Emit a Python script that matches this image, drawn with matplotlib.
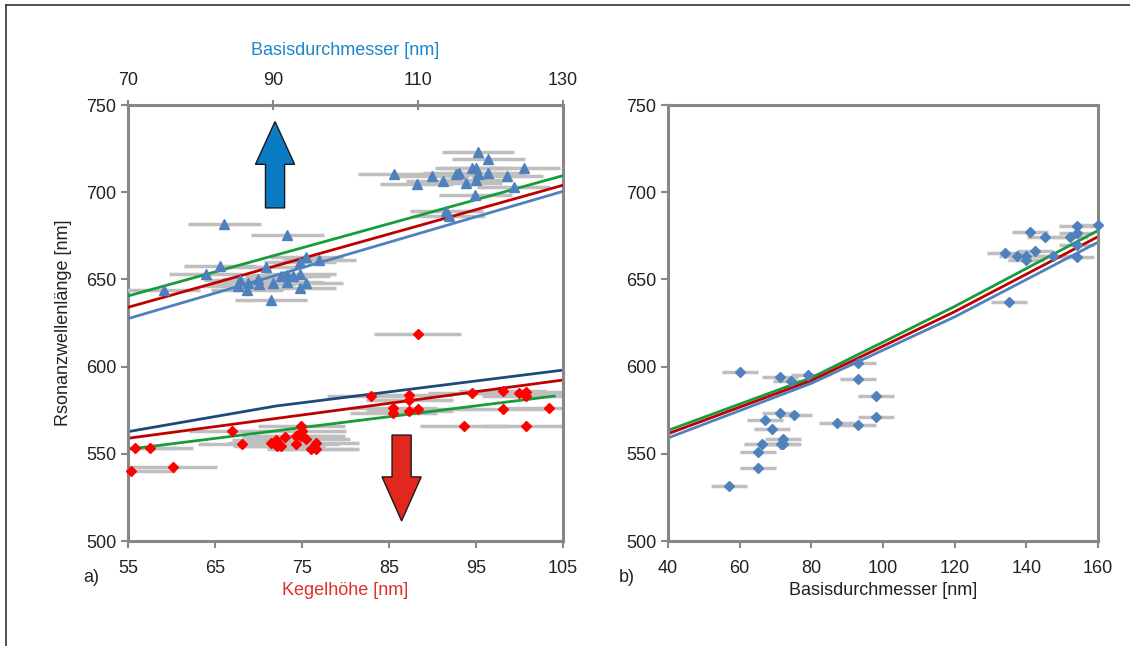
import matplotlib
matplotlib.use("Agg")
import matplotlib.pyplot as plt
from matplotlib.patches import Polygon
from matplotlib.lines import Line2D

plt.rcParams['font.family'] = ['Liberation Sans', 'DejaVu Sans']

# ---- panel a): blue triangles (Basisdurchmesser, top axis) ----
tri_x = [83.3, 92.0, 82.7, 80.7, 74.9, 89.0, 93.7, 94.6, 96.4, 85.5, 86.5, 85.2,
         86.4, 88.0, 88.1, 90.0, 91.1, 91.9, 92.8, 93.7, 91.9, 94.6, 93.7, 89.7,
         118.3, 119.7, 106.7, 109.8, 112.0, 113.4, 115.2, 115.7, 116.6, 117.4,
         118.0, 118.3, 118.0, 119.7, 122.3, 124.6, 123.2, 117.9, 113.9, 114.3]
tri_y = [681.8, 675.6, 657.9, 653.1, 643.9, 657.3, 659.8, 663.0, 661.1, 649.7, 648.1, 646.2,
         643.9, 650.1, 647.2, 647.9, 651.9, 652.5, 652.1, 653.1, 648.7, 648.1, 644.9, 638.2,
         722.9, 718.9, 710.3, 704.5, 709.3, 706.4, 710.6, 711.2, 705.4, 714.0,
         714.0, 710.3, 707.0, 711.2, 709.3, 714.0, 703.2, 698.4, 689.4, 686.4]

# ---- panel a): red diamonds (Kegelhoehe, bottom axis) ----
dia_x = [55.8, 57.5, 55.4, 60.2, 67.0, 68.1, 71.4, 72.0, 72.1, 72.6, 73.1, 74.3,
         74.3, 74.9, 75.0, 74.9, 75.5, 76.6, 76.0, 76.6,
         88.3, 82.9, 87.3, 87.3, 85.5, 85.5, 87.3, 88.3, 94.5, 98.1, 99.9, 100.7,
         100.7, 98.1, 103.4, 93.6, 100.7]
dia_y = [553.5, 553.5, 540.3, 542.6, 563.2, 555.4, 556.4, 557.9, 554.5, 554.5, 559.5, 560.4,
         555.4, 566.1, 563.2, 560.4, 558.3, 556.4, 552.6, 552.6,
         618.7, 583.1, 583.5, 580.8, 576.1, 573.2, 574.4, 575.5, 585.0, 586.2, 585.0, 585.4,
         583.1, 575.5, 576.3, 566.1, 566.1]
x_err = 5

# fit lines panel a)
up_x = [70, 130]
up_green = [640.5, 709.5]
up_red = [634.0, 704.0]
up_blue = [627.5, 700.5]
low_blue_x = [55, 72, 105]
low_blue = [562.7, 577.4, 598.0]
low_red_x = [55, 105]
low_red = [558.9, 592.3]
low_green_x = [55, 104]
low_green = [552.6, 583.1]

# ---- panel b) ----
b_x = [60.1, 71.2, 74.2, 79.2, 93.1, 93.1, 98.0, 98.0, 87.1, 93.1, 71.2, 75.2,
       67.0, 69.1, 72.1, 71.4, 72.1, 66.1, 65.2, 65.2, 57.1,
       154.0, 160.1, 141.0, 145.2, 152.2, 154.0, 154.0, 134.0, 137.3, 140.0,
       140.0, 142.4, 147.4, 154.0, 135.2]
b_y = [596.9, 594.2, 591.9, 595.2, 601.9, 592.9, 583.1, 571.3, 567.5, 566.3, 573.6, 572.3,
       569.4, 564.2, 558.5, 555.4, 555.4, 555.4, 551.2, 541.7, 531.5,
       680.8, 681.2, 677.3, 674.5, 674.5, 676.4, 669.7, 665.0, 663.6, 663.6,
       661.1, 666.5, 663.6, 662.7, 636.9]
b_line_x = [40, 80, 120, 160]
b_green = [563.4, 593.6, 634.5, 678.0]
b_red = [561.5, 592.0, 631.5, 674.5]
b_blue = [559.1, 590.4, 628.5, 671.3]

GREEN = '#179c3c'
RED = '#c00000'
BLUE = '#4f81bd'
DBLUE = '#1f497d'
GREY = '#bfbfbf'
SPINE = '#878787'
FS = 13
W, H = 1130, 646

fig = plt.figure(figsize=(W / 100, H / 100), dpi=100)


def style(ax):
    for s in ax.spines.values():
        s.set_color(SPINE)
        s.set_linewidth(2.2)
    ax.tick_params(colors=SPINE, labelcolor='#222222', labelsize=FS, width=1.5, length=5)
    ax.set_ylim(500, 750)
    ax.set_yticks(range(500, 751, 50))


ax = fig.add_axes([128 / W, 1 - 541 / H, 435 / W, 436 / H])
style(ax)
ax.set_xlim(55, 105)
ax.set_xticks(range(55, 106, 10))
ax.tick_params(axis='x', pad=9)
ax.set_ylabel('Rsonanzwellenlänge [nm]', fontsize=FS, color='#222222', labelpad=10)
ax.set_xlabel('Kegelhöhe [nm]', fontsize=FS, color='#e0302a', labelpad=3)

axt = ax.twiny()
axt.set_xlim(70, 130)
axt.set_xticks(range(70, 131, 20))
for s in axt.spines.values():
    s.set_visible(False)
axt.tick_params(axis='x', colors=SPINE, labelcolor='#222222', labelsize=FS,
                direction='inout', length=7, width=1.5, pad=8)
axt.set_xlabel('Basisdurchmesser [nm]', fontsize=FS, color='#1a86cc', labelpad=12)

# red group on bottom axis
ax.errorbar(dia_x, dia_y, xerr=x_err, fmt='none', ecolor=GREY, elinewidth=2.5, capsize=0, zorder=1)
ax.plot(low_blue_x, low_blue, color=DBLUE, lw=2, zorder=2)
ax.plot(low_red_x, low_red, color=RED, lw=2, zorder=2)
ax.plot(low_green_x, low_green, color=GREEN, lw=2, zorder=2)
ax.plot(dia_x, dia_y, 'D', color='#ff0000', ms=5, mec='#ff0000', zorder=3, clip_on=False)

# blue group on top axis
axt.errorbar(tri_x, tri_y, xerr=x_err, fmt='none', ecolor=GREY, elinewidth=2.5, capsize=0, zorder=1)
axt.plot(up_x, up_green, color=GREEN, lw=2, zorder=2)
axt.plot(up_x, up_red, color=RED, lw=2, zorder=2)
axt.plot(up_x, up_blue, color=BLUE, lw=2, zorder=2)
axt.plot(tri_x, tri_y, '^', color=BLUE, ms=7, mec=BLUE, zorder=3)

# arrows
cx, sw, hw = 0.338, 0.022, 0.045
up_arrow = [(cx - sw, 0.764), (cx + sw, 0.764), (cx + sw, 0.864), (cx + hw, 0.864),
            (cx, 0.962), (cx - hw, 0.864), (cx - sw, 0.864)]
ax.add_patch(Polygon(up_arrow, closed=True, transform=ax.transAxes,
                     facecolor='#0b7bc4', edgecolor='#1a1a1a', lw=1, zorder=4))
cx = 0.629
dn_arrow = [(cx - sw, 0.243), (cx + sw, 0.243), (cx + sw, 0.147), (cx + hw, 0.147),
            (cx, 0.046), (cx - hw, 0.147), (cx - sw, 0.147)]
ax.add_patch(Polygon(dn_arrow, closed=True, transform=ax.transAxes,
                     facecolor='#e0281e', edgecolor='#1a1a1a', lw=1, zorder=4))

# ---- panel b ----
bx = fig.add_axes([668 / W, 1 - 541 / H, 430 / W, 436 / H])
style(bx)
bx.set_xlim(40, 160)
bx.set_xticks(range(40, 161, 20))
bx.tick_params(axis='x', pad=9)
bx.set_xlabel('Basisdurchmesser [nm]', fontsize=FS, color='#222222', labelpad=3)
bx.errorbar(b_x, b_y, xerr=x_err, fmt='none', ecolor=GREY, elinewidth=2.5, capsize=0, zorder=1)
bx.plot(b_line_x, b_green, color=GREEN, lw=2, zorder=2)
bx.plot(b_line_x, b_red, color=RED, lw=2, zorder=2)
bx.plot(b_line_x, b_blue, color=BLUE, lw=2, zorder=2)
bx.plot(b_x, b_y, 'D', color=BLUE, ms=5, mec=BLUE, zorder=3, clip_on=False)

fig.text(91 / W, 1 - 577 / H, 'a)', fontsize=FS, color='#222222', ha='center', va='center')
fig.text(627 / W, 1 - 577 / H, 'b)', fontsize=FS, color='#222222', ha='center', va='center')

# frame around the figure
fig.add_artist(Line2D([6 / W, 6 / W], [0, 1 - 5 / H], transform=fig.transFigure, color='#333333', lw=1.2))
fig.add_artist(Line2D([6 / W, 1], [1 - 5 / H, 1 - 5 / H], transform=fig.transFigure, color='#333333', lw=1.2))

fig.savefig('out.png', dpi=100)
